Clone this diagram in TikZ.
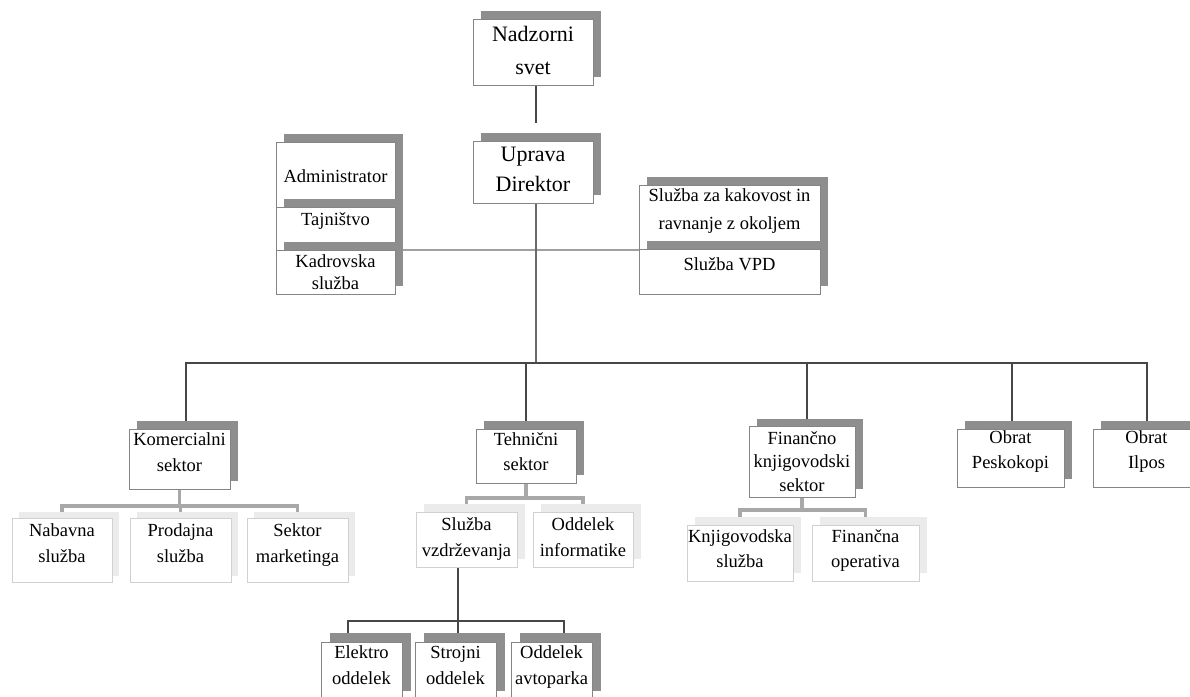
\documentclass[tikz,border=0pt]{standalone}
\usepackage{fontspec}
\setmainfont{Liberation Serif}
\usetikzlibrary{shadows,calc,backgrounds}
\definecolor{boxline}{HTML}{858585}
\definecolor{shd}{HTML}{8E8E8E}
\definecolor{lshd}{HTML}{EBEBEB}
\definecolor{lline}{HTML}{D0D0D0}
\definecolor{conn}{HTML}{474747}
\definecolor{upconn}{HTML}{6A6A6A}
\definecolor{subconn}{HTML}{A8A8A8}
\definecolor{staffconn}{HTML}{A0A0A0}
\newcommand{\bx}[2]{\raisebox{#1}[\height][\depth]{\begin{tabular}{@{}c@{}}#2\end{tabular}}}
\begin{document}
\begin{tikzpicture}[x=1pt,y=-1pt,
  lsp/.style={font=\fontsize{18.5}{#1}\selectfont},
  big/.style={font=\fontsize{22}{#1}\selectfont},
  basebox/.style={fill=white, line width=0.9pt, inner sep=0pt, lsp=25},
  darkbox/.style={basebox, draw=boxline,
    copy shadow={shadow xshift=#1, shadow yshift=#1, fill=shd, draw=none, opacity=1}},
  darkbox/.default=8pt,
  lightbox/.style={basebox, draw=lline,
    copy shadow={shadow xshift=#1, shadow yshift=#1, fill=lshd, draw=none, opacity=1}},
  lightbox/.default=8pt,
  sz/.style n args={2}{minimum width=#1, minimum height=#2},
  mainline/.style={draw=conn, line width=1.4pt},
  upline/.style={draw=upconn, line width=1.4pt},
  subline/.style={draw=subconn, line width=3.5pt},
  staffline/.style={draw=staffconn, line width=2pt}
]
\useasboundingbox (0,0) rectangle (1190,696);
\begin{pgfonlayer}{background}
\fill[white] (0,0) rectangle (1190,696);
\end{pgfonlayer}

% top
\node[darkbox, sz={120pt}{62pt}, big=33] (nadzorni) at (533,52) {\bx{0.5pt}{Nadzorni\\svet}};
\node[darkbox, sz={120pt}{62pt}, big=30] (uprava) at (533,172) {\bx{2pt}{Uprava\\Direktor}};

% staff left
\node[darkbox, sz={119pt}{65pt}] (admin) at (335.5,174.5) {\bx{-2.5pt}{Administrator}};
\node[darkbox, sz={119pt}{43pt}] (tajnistvo) at (335.5,228.5) {\bx{8.5pt}{Tajništvo}};
\node[darkbox, sz={119pt}{44pt}, lsp=22] (kadrovska) at (335.5,272) {\bx{-2pt}{Kadrovska\\služba}};

% staff right
\node[darkbox, sz={181pt}{64pt}, lsp=28] (kakovost) at (729.5,217) {\bx{7pt}{Služba za kakovost in\\ravnanje z okoljem}};
\node[darkbox, sz={181pt}{45pt}] (vpd) at (729.5,271.5) {\bx{6.5pt}{Služba VPD}};

% sectors
\node[darkbox, sz={101pt}{60pt}, lsp=26] (komerc) at (179.5,459) {\bx{6pt}{Komercialni\\sektor}};
\node[darkbox, sz={100pt}{54pt}, lsp=25] (tehn) at (526,456) {\bx{3.5pt}{Tehnični\\sektor}};
\node[darkbox, sz={106pt}{66pt}, lsp=23.5] (financ) at (802,462) {\bx{-1pt}{Finančno\\knjigovodski\\sektor}};
\node[darkbox, sz={107pt}{58pt}, lsp=25] (pesko) at (1010.5,458) {\bx{7.5pt}{Obrat\\Peskokopi}};
\node[darkbox, sz={107pt}{58pt}, lsp=25] (ilpos) at (1146.5,458) {\bx{7.5pt}{Obrat\\Ilpos}};

% second level
\node[lightbox=6.5pt, sz={100pt}{64pt}, lsp=26] (nabavna) at (62,550) {\bx{6pt}{Nabavna\\služba}};
\node[lightbox=6.5pt, sz={101pt}{64pt}, lsp=26] (prodajna) at (180.5,550) {\bx{6pt}{Prodajna\\služba}};
\node[lightbox=6.5pt, sz={101pt}{64pt}, lsp=26] (marketing) at (297.5,550) {\bx{6pt}{Sektor\\marketinga}};
\node[lightbox, sz={101pt}{55pt}, lsp=26] (vzdrz) at (466.5,539.5) {\bx{1.5pt}{Služba\\vzdrževanja}};
\node[lightbox, sz={100pt}{55pt}, lsp=26] (inform) at (583,539.5) {\bx{1.5pt}{Oddelek\\informatike}};
\node[lightbox, sz={106pt}{56pt}, lsp=25] (knjig) at (740,553) {\bx{3.5pt}{Knjigovodska\\služba}};
\node[lightbox, sz={107pt}{56pt}, lsp=25] (operat) at (865.5,553) {\bx{3.5pt}{Finančna\\operativa}};

% third level
\node[darkbox=9pt, sz={81pt}{58pt}, lsp=26] (elektro) at (361.5,671) {\bx{5pt}{Elektro\\oddelek}};
\node[darkbox=9pt, sz={81pt}{58pt}, lsp=26] (strojni) at (455.5,671) {\bx{5pt}{Strojni\\oddelek}};
\node[darkbox=9pt, sz={81pt}{58pt}, lsp=26] (avtopark) at (551.5,671) {\bx{5pt}{Oddelek\\avtoparka}};

% helper coordinates
\coordinate (nzEnd) at ($(nadzorni.south)+(3,38)$);
\coordinate (nzStart) at ($(nadzorni.south)+(3,0)$);
\coordinate (upx) at ($(uprava.south)+(3,0)$);
\coordinate (busy) at (0,363);
\coordinate (kx) at ($(komerc.north)+(6.5,0)$);
\coordinate (fx) at ($(financ.north)+(5,0)$);
\coordinate (px) at ($(pesko.north)+(1.5,0)$);
\coordinate (ix) at ($(ilpos.north)+(0.5,0)$);
\coordinate (sb1) at (0,506);
\coordinate (sb2) at (0,498);
\coordinate (sb3) at (0,510);
\coordinate (vx) at ($(vzdrz.south)+(-8.5,0)$);
\coordinate (sb4) at (0,621);
\coordinate (ex) at ($(elektro.north)+(-13.5,0)$);
\coordinate (sx) at ($(strojni.north)+(2.5,0)$);
\coordinate (ax) at ($(avtopark.north)+(12.5,0)$);

\begin{pgfonlayer}{background}
\draw[mainline] (nzStart) -- (nzEnd);
\draw[staffline] (kadrovska.north east) -- (kadrovska.north east -| vpd.west);
\draw[upline] (upx) -- (upx |- busy);
\draw[mainline] (kx) -- (kx |- busy) -- (ix |- busy) -- (ix);
\draw[mainline] (tehn.north) -- (tehn.north |- busy);
\draw[mainline] (fx) -- (fx |- busy);
\draw[mainline] (px) -- (px |- busy);
% komercialni children
\draw[subline] (komerc.south) -- (komerc.south |- sb1);
\draw[subline] (nabavna.north) -- (nabavna.north |- sb1) -- (marketing.north |- sb1) -- (marketing.north);
\draw[subline] (prodajna.north) -- (prodajna.north |- sb1);
% tehnicni children
\draw[subline] (tehn.south) -- (tehn.south |- sb2);
\draw[subline] (vzdrz.north) -- (vzdrz.north |- sb2) -- (inform.north |- sb2) -- (inform.north);
% financni children
\draw[subline] (financ.south) -- (financ.south |- sb3);
\draw[subline] (knjig.north) -- (knjig.north |- sb3) -- (operat.north |- sb3) -- (operat.north);
% vzdrzevanje children
\draw[mainline] (vx) -- (vx |- sb4);
\draw[mainline] (ex) -- (ex |- sb4) -- (ax |- sb4) -- (ax);
\draw[mainline] (sx) -- (sx |- sb4);
\end{pgfonlayer}
\end{tikzpicture}
\end{document}
